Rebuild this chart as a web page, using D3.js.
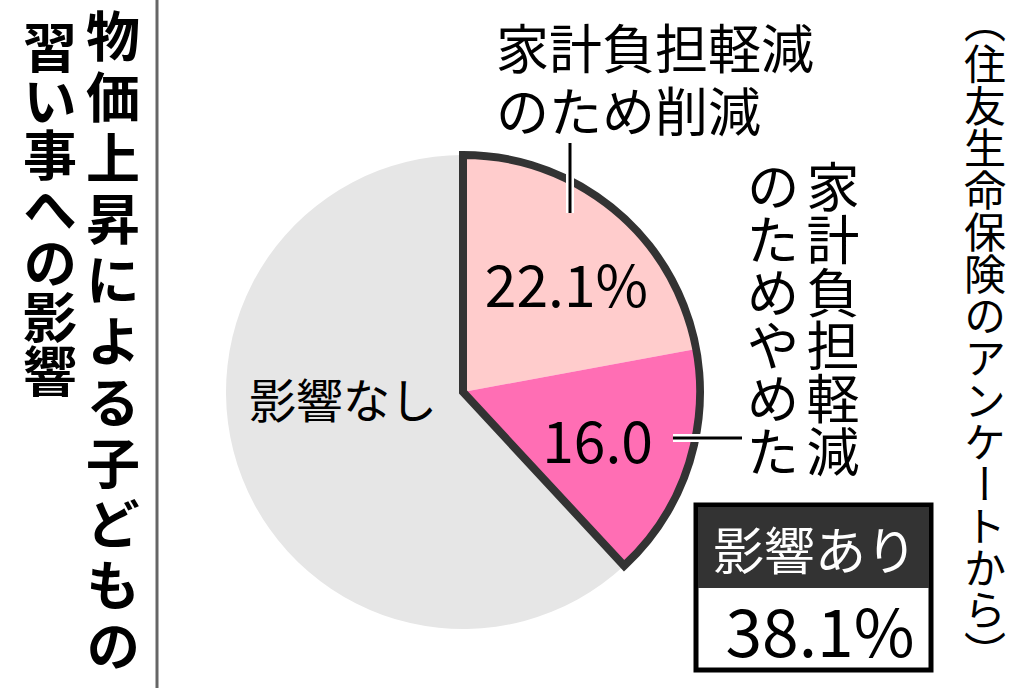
<!DOCTYPE html>
<html><head><meta charset="utf-8">
<script src="https://cdn.jsdelivr.net/npm/d3@7"></script>
<style>
html,body{margin:0;padding:0;background:#fff;}
text{font-family:"Noto Sans CJK JP","Noto Sans",sans-serif;}
</style></head>
<body>
<svg id="c" width="1024" height="688"></svg>
<script>
const categories = ["家計負担軽減のため削減", "家計負担軽減のためやめた", "影響なし"];
const values = [22.1, 16.0, 61.9];
const valueLabels = ["22.1%", "16.0", "影響なし"];
const colors = ["#FFCCCC", "#FF6EB4", "#E6E6E6"];
const titleLines = ["物価上昇による子どもの", "習い事への影響"];
const sourceText = "（住友生命保険のアンケートから）";
const calloutLabel1 = ["家計負担軽減", "のため削減"];
const calloutLabel2 = ["家計負担軽減", "のためやめた"];
const summaryLabel = "影響あり";
const summaryValue = "38.1%";

const svg = d3.select("#c");
const cx = 463, cy = 392, R = 237;

// title (vertical)
svg.append("line").attr("x1",157).attr("x2",157).attr("y1",0).attr("y2",688)
  .attr("stroke","#666").attr("stroke-width",3);
svg.append("text").attr("x",113).attr("y",9)
  .attr("writing-mode","vertical-rl").attr("font-size",54).attr("font-weight","bold")
  .attr("letter-spacing",7).attr("fill","#000").text(titleLines[0]);
svg.append("text").attr("x",50).attr("y",20)
  .attr("writing-mode","vertical-rl").attr("font-size",54).attr("font-weight","bold")
  .attr("fill","#000").text(titleLines[1]);

// source
svg.append("text").attr("x",985).attr("y",1)
  .attr("writing-mode","vertical-rl").attr("font-size",42)
  .attr("fill","#000").text(sourceText);

// pie
const pie = d3.pie().sort(null).value(d => d);
const arcs = pie(values);
const arc = d3.arc().innerRadius(0).outerRadius(R);
const g = svg.append("g").attr("transform", `translate(${cx},${cy})`);
g.selectAll("path.slice").data(arcs).join("path").attr("class","slice")
  .attr("d", arc).attr("fill", (d,i) => colors[i]);

// outline of affected share
const affected = {startAngle: arcs[0].startAngle, endAngle: arcs[1].endAngle};
g.append("path").attr("d", arc(affected)).attr("fill","none")
  .attr("stroke","#333").attr("stroke-width",8).attr("stroke-linejoin","miter");

// value labels
const labelArc = d3.arc().innerRadius(0).outerRadius(292);
[0,1].forEach(i => {
  const c = labelArc.centroid(arcs[i]);
  const off = i === 0 ? [10, 2] : [-4, 0];
  g.append("text").attr("x", c[0]+off[0]).attr("y", c[1]+off[1])
    .attr("text-anchor","middle").attr("dominant-baseline","central")
    .attr("font-size",57).attr("fill","#000").text(valueLabels[i]);
});
g.append("text").attr("x", -120).attr("y", 5)
  .attr("text-anchor","middle").attr("dominant-baseline","central")
  .attr("font-size",47).attr("fill","#000").text(valueLabels[2]);

// leader lines
function leader(x1,y1,x2,y2){
  svg.append("line").attr("x1",x1).attr("y1",y1).attr("x2",x2).attr("y2",y2)
    .attr("stroke","#fff").attr("stroke-width",8);
  svg.append("line").attr("x1",x1).attr("y1",y1).attr("x2",x2).attr("y2",y2)
    .attr("stroke","#000").attr("stroke-width",3);
}
leader(570,143,570,213);
leader(673,438,742,438);

// callout labels
svg.append("text").attr("x",496).attr("y",46)
  .attr("dominant-baseline","central").attr("font-size",53).attr("fill","#000")
  .selectAll("tspan").data(calloutLabel1).join("tspan")
  .attr("x",496).attr("dy",(d,i) => i ? 63 : 0).text(d => d);
calloutLabel2.forEach((t,i) => {
  svg.append("text").attr("x",833 - i*60).attr("y",160)
    .attr("writing-mode","vertical-rl").attr("font-size",53).attr("fill","#000").text(t);
});

// summary box
svg.append("rect").attr("x",696).attr("y",505).attr("width",235).attr("height",165)
  .attr("fill","#fff").attr("stroke","#000").attr("stroke-width",5);
svg.append("rect").attr("x",698).attr("y",507).attr("width",231).attr("height",81)
  .attr("fill","#333");
svg.append("text").attr("x",815).attr("y",548).attr("text-anchor","middle")
  .attr("dominant-baseline","central").attr("font-size",51).attr("fill","#fff").text(summaryLabel);
svg.append("text").attr("x",820).attr("y",628).attr("text-anchor","middle")
  .attr("dominant-baseline","central").attr("font-size",66).attr("fill","#000").text(summaryValue);
</script>
</body></html>
